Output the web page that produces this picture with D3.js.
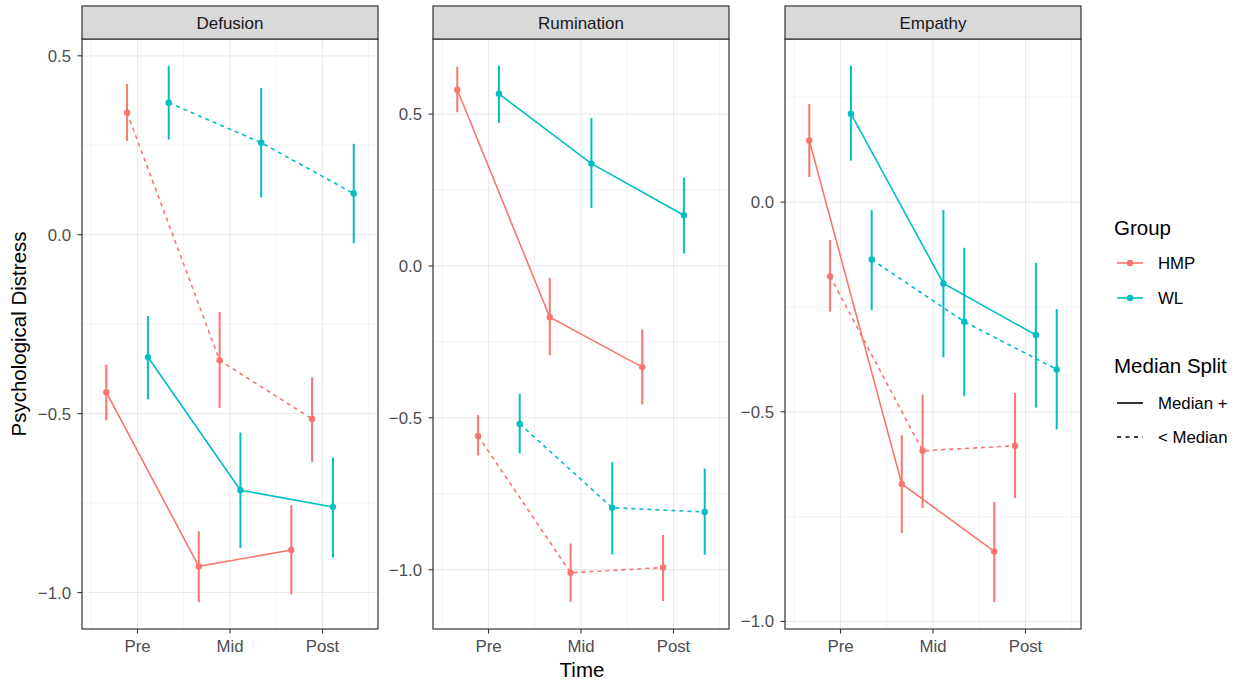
<!DOCTYPE html>
<html>
<head>
<meta charset="utf-8">
<script src="https://cdn.jsdelivr.net/npm/d3@7"></script>
<style>
  body { margin: 0; background: #fff; }
  svg { font-family: "Liberation Sans", Arial, sans-serif; }
</style>
</head>
<body>
<svg id="canvas" width="1242" height="682"></svg>
<script>
const facets = ["Defusion", "Rumination", "Empathy"];
const times = ["Pre", "Mid", "Post"];
const groups = ["HMP", "WL"];
const splits = ["Median +", "< Median"];

// mean, lower, upper per time point, [facet][series] with series order HMP+, HMP<, WL+, WL<
const defusionMean = [[-0.44, -0.927, -0.881], [0.341, -0.351, -0.515], [-0.342, -0.714, -0.761], [0.369, 0.257, 0.115]];
const defusionLow = [[-0.519, -1.027, -1.005], [0.262, -0.484, -0.635], [-0.46, -0.875, -0.902], [0.266, 0.104, -0.024]];
const defusionHigh = [[-0.363, -0.829, -0.756], [0.421, -0.216, -0.399], [-0.227, -0.553, -0.623], [0.472, 0.41, 0.254]];

const ruminationMean = [[0.58, -0.169, -0.333], [-0.56, -1.01, -0.993], [0.567, 0.337, 0.167], [-0.52, -0.796, -0.81]];
const ruminationLow = [[0.506, -0.294, -0.456], [-0.624, -1.107, -1.103], [0.471, 0.191, 0.041], [-0.617, -0.95, -0.951]];
const ruminationHigh = [[0.656, -0.039, -0.209], [-0.491, -0.914, -0.886], [0.659, 0.487, 0.291], [-0.421, -0.646, -0.667]];

const empathyMean = [[0.147, -0.672, -0.833], [-0.177, -0.593, -0.581], [0.211, -0.194, -0.317], [-0.137, -0.285, -0.399]];
const empathyLow = [[0.06, -0.789, -0.954], [-0.261, -0.729, -0.706], [0.099, -0.37, -0.49], [-0.257, -0.462, -0.542]];
const empathyHigh = [[0.234, -0.556, -0.715], [-0.09, -0.459, -0.455], [0.325, -0.019, -0.145], [-0.019, -0.109, -0.255]];

const means = [defusionMean, ruminationMean, empathyMean];
const lows = [defusionLow, ruminationLow, empathyLow];
const highs = [defusionHigh, ruminationHigh, empathyHigh];

const color = d3.scaleOrdinal().domain(groups).range(["#F8766D", "#00BFC4"]);
const dash = d3.scaleOrdinal().domain(splits).range(["none", "4,4"]);

const series = [];
groups.forEach(g => splits.forEach(s => series.push({ group: g, split: s })));

const svg = d3.select("svg#canvas");
const panelX = [82, 433, 785];
const panelW = 296;
const panelTop = 39, panelBottom = 629, stripTop = 6;
const tickFont = 16.8, titleFont = 20.5;

// discrete x with ggplot-style 0.6 expansion
const xIndex = d3.scaleLinear().domain([-0.6, times.length - 1 + 0.6]);
const dodge = d3.scaleLinear().domain([0, series.length - 1]).range([-0.3375, 0.3375]);

facets.forEach((facet, fi) => {
  const x0 = panelX[fi];
  const xs = xIndex.copy().range([x0, x0 + panelW]);
  const lo = d3.min(lows[fi].flat()), hi = d3.max(highs[fi].flat());
  const pad = (hi - lo) * 0.05;
  const y = d3.scaleLinear().domain([lo - pad, hi + pad]).range([panelBottom, panelTop]);
  const ticks = y.ticks(4);
  const step = ticks[1] - ticks[0];
  const minor = d3.range(ticks[0] - step / 2, ticks[ticks.length - 1] + step, step)
    .filter(v => v > y.domain()[0] && v < y.domain()[1]);

  const g = svg.append("g");

  // grid
  g.selectAll(".minory").data(minor).enter().append("line")
    .attr("x1", x0).attr("x2", x0 + panelW)
    .attr("y1", d => y(d)).attr("y2", d => y(d))
    .attr("stroke", "#ebebeb").attr("stroke-width", 0.6);
  g.selectAll(".minorx").data(d3.range(-0.5, times.length, 1)).enter().append("line")
    .attr("x1", d => xs(d)).attr("x2", d => xs(d))
    .attr("y1", panelTop).attr("y2", panelBottom)
    .attr("stroke", "#ebebeb").attr("stroke-width", 0.6);
  g.selectAll(".majory").data(ticks).enter().append("line")
    .attr("x1", x0).attr("x2", x0 + panelW)
    .attr("y1", d => y(d)).attr("y2", d => y(d))
    .attr("stroke", "#ebebeb").attr("stroke-width", 1.2);
  g.selectAll(".majorx").data(times).enter().append("line")
    .attr("x1", (d, i) => xs(i)).attr("x2", (d, i) => xs(i))
    .attr("y1", panelTop).attr("y2", panelBottom)
    .attr("stroke", "#ebebeb").attr("stroke-width", 1.2);

  // lines
  series.forEach((s, si) => {
    const pts = times.map((t, ti) => [xs(ti + dodge(si)), y(means[fi][si][ti])]);
    g.append("path")
      .attr("d", d3.line()(pts))
      .attr("fill", "none")
      .attr("stroke", color(s.group))
      .attr("stroke-width", 1.6)
      .attr("stroke-dasharray", dash(s.split));
  });

  // error bars and points
  series.forEach((s, si) => {
    times.forEach((t, ti) => {
      const cx = xs(ti + dodge(si));
      g.append("line")
        .attr("x1", cx).attr("x2", cx)
        .attr("y1", y(lows[fi][si][ti])).attr("y2", y(highs[fi][si][ti]))
        .attr("stroke", color(s.group)).attr("stroke-width", 2);
      g.append("circle")
        .attr("cx", cx).attr("cy", y(means[fi][si][ti])).attr("r", 3.2)
        .attr("fill", color(s.group));
    });
  });

  // panel border
  g.append("rect")
    .attr("x", x0).attr("y", panelTop).attr("width", panelW).attr("height", panelBottom - panelTop)
    .attr("fill", "none").attr("stroke", "#333").attr("stroke-width", 1.2);

  // strip
  g.append("rect")
    .attr("x", x0).attr("y", stripTop).attr("width", panelW).attr("height", panelTop - stripTop)
    .attr("fill", "#d9d9d9").attr("stroke", "#333").attr("stroke-width", 1.2);
  g.append("text")
    .attr("x", x0 + panelW / 2).attr("y", 29)
    .attr("text-anchor", "middle").attr("font-size", 17).attr("fill", "#1a1a1a")
    .text(facet);

  // y axis
  g.selectAll(".yt").data(ticks).enter().append("line")
    .attr("x1", x0 - 4.5).attr("x2", x0)
    .attr("y1", d => y(d)).attr("y2", d => y(d))
    .attr("stroke", "#333").attr("stroke-width", 1.1);
  g.selectAll(".yl").data(ticks).enter().append("text")
    .attr("x", x0 - 11).attr("y", d => y(d) + 6)
    .attr("text-anchor", "end").attr("font-size", tickFont).attr("fill", "#4d4d4d")
    .text(d => d3.format(".1f")(d));

  // x axis
  g.selectAll(".xt").data(times).enter().append("line")
    .attr("x1", (d, i) => xs(i)).attr("x2", (d, i) => xs(i))
    .attr("y1", panelBottom).attr("y2", panelBottom + 4.5)
    .attr("stroke", "#333").attr("stroke-width", 1.1);
  g.selectAll(".xl").data(times).enter().append("text")
    .attr("x", (d, i) => xs(i)).attr("y", 652)
    .attr("text-anchor", "middle").attr("font-size", tickFont).attr("fill", "#4d4d4d")
    .text(d => d);
});

// axis titles
svg.append("text")
  .attr("transform", "translate(26,334) rotate(-90)")
  .attr("text-anchor", "middle").attr("font-size", titleFont).attr("fill", "#000")
  .text("Psychological Distress");
svg.append("text")
  .attr("x", 582).attr("y", 677)
  .attr("text-anchor", "middle").attr("font-size", titleFont).attr("fill", "#000")
  .text("Time");

// legends
const lg = svg.append("g");
lg.append("text").attr("x", 1114).attr("y", 235).attr("font-size", titleFont).text("Group");
groups.forEach((gname, i) => {
  const yy = 263 + i * 35;
  lg.append("line").attr("x1", 1117).attr("x2", 1143).attr("y1", yy).attr("y2", yy)
    .attr("stroke", color(gname)).attr("stroke-width", 1.6);
  lg.append("circle").attr("cx", 1130).attr("cy", yy).attr("r", 3.2).attr("fill", color(gname));
  lg.append("text").attr("x", 1158).attr("y", yy + 6).attr("font-size", tickFont).text(gname);
});
lg.append("text").attr("x", 1114).attr("y", 373).attr("font-size", titleFont).text("Median Split");
splits.forEach((s, i) => {
  const yy = 403 + i * 34;
  lg.append("line").attr("x1", 1117).attr("x2", 1143).attr("y1", yy).attr("y2", yy)
    .attr("stroke", "#000").attr("stroke-width", 1.6)
    .attr("stroke-dasharray", s === "< Median" ? "4,4.5" : "none");
  lg.append("text").attr("x", 1158).attr("y", yy + 6).attr("font-size", tickFont).text(s);
});
</script>
</body>
</html>
